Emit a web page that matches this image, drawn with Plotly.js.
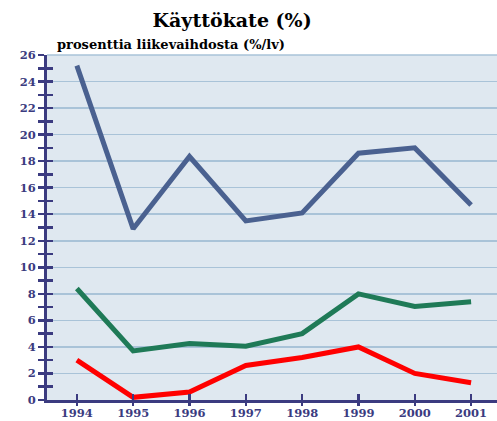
<!DOCTYPE html>
<html>
<head>
<meta charset="utf-8">
<script src="https://cdn.plot.ly/plotly-3.0.1.min.js"></script>
<style>body{margin:0;background:#fff}#plot{width:497px;height:421px}</style>
</head>
<body>
<div id="plot"></div>
<script>
// --- Data ---
const years = [1994, 1995, 1996, 1997, 1998, 1999, 2000, 2001];
const seriesBlue = [25.2, 12.9, 18.35, 13.5, 14.1, 18.6, 19.0, 14.7];
const seriesGreen = [8.4, 3.7, 4.25, 4.05, 5.0, 8.0, 7.05, 7.4];
const seriesRed = [3.0, 0.2, 0.6, 2.6, 3.2, 4.0, 2.0, 1.3];
const yTicks = [0, 2, 4, 6, 8, 10, 12, 14, 16, 18, 20, 22, 24, 26];

const navy = '#3b3b80';
const serif = 'DejaVu Serif';  // the only serif face that actually renders here
const tickFont = {family: serif, size: 11.5, color: navy};

function line(y, color){
  return {x: years, y: y, type: 'scatter', mode: 'lines', line: {color: color, width: 5}, hoverinfo: 'skip', showlegend: false};
}

const traces = [line(seriesBlue, '#4a6190'), line(seriesGreen, '#1f7a57'), line(seriesRed, '#ff0000')];
// invisible trace to activate the overlaying axes (other half of the crossing ticks)
traces.push({x: [years[0]], y: [0], xaxis: 'x2', yaxis: 'y2', mode: 'markers', marker: {opacity: 0}, hoverinfo: 'skip', showlegend: false});

const xr = [1993.47, 2001.46];
const yr = [0, 26];
const b = s => '<b>' + s + '</b>';

const layout = {
  width: 497, height: 421,
  font: {family: serif},
  margin: {l: 47, r: 0, t: 55, b: 21},
  paper_bgcolor: '#ffffff', plot_bgcolor: '#dfe8f0',
  title: {text: b('Käyttökate (%)'), x: 0.467, xanchor: 'center', y: 0.952, yanchor: 'middle',
    font: {family: serif, size: 19, color: '#000'}},
  xaxis: {range: xr, tickvals: years, ticktext: years.map(v => b(v)), showgrid: false, zeroline: false,
    showline: true, linecolor: navy, linewidth: 3, ticks: 'inside', ticklen: 6, tickwidth: 2.5, tickcolor: navy,
    tickfont: tickFont, automargin: false},
  yaxis: {range: yr, tickvals: yTicks, ticktext: yTicks.map(v => b(v)),
    showgrid: true, gridcolor: '#a9c3d8', gridwidth: 1.5, zeroline: false,
    showline: true, linecolor: navy, linewidth: 3, ticks: 'outside', ticklen: 6, tickwidth: 2.5, tickcolor: navy,
    minor: {dtick: 1, ticks: 'outside', ticklen: 6, tickwidth: 2.5, tickcolor: navy, showgrid: false},
    tickfont: tickFont, automargin: false},
  xaxis2: {overlaying: 'x', range: xr, tickvals: years, showticklabels: false, showgrid: false, zeroline: false,
    ticks: 'outside', ticklen: 5, tickwidth: 2.5, tickcolor: navy, side: 'bottom', anchor: 'y2'},
  yaxis2: {overlaying: 'y', range: yr, dtick: 1, showticklabels: false, showgrid: false, zeroline: false,
    ticks: 'inside', ticklen: 6, tickwidth: 2.5, tickcolor: navy, side: 'left', anchor: 'x2'},
  shapes: [{type: 'line', xref: 'paper', yref: 'paper', x0: 0, x1: 1, y0: 1, y1: 1, line: {color: '#a9c3d8', width: 1.5}}],
  annotations: [{text: b('prosenttia liikevaihdosta (%/lv)'), xref: 'paper', yref: 'paper', x: 0.018, y: 1.03,
    xanchor: 'left', yanchor: 'middle', showarrow: false,
    font: {family: serif, size: 13, color: '#000'}}]
};

Plotly.newPlot('plot', traces, layout, {staticPlot: true});
</script>
</body>
</html>
